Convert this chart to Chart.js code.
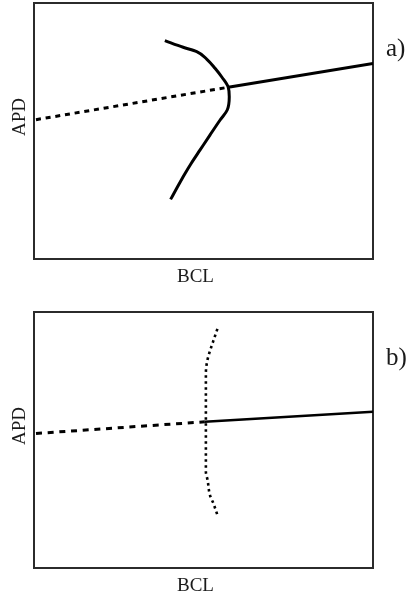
<!DOCTYPE html>
<html><head><meta charset="utf-8">
<script src="https://cdn.jsdelivr.net/npm/chart.js@4/dist/chart.umd.min.js"></script>
<style>
html,body{margin:0;padding:0;background:#fff;width:407px;height:599px;overflow:hidden}
canvas{position:absolute;left:0}
#ca{top:0}
#cb{top:299px}
</style></head><body>
<canvas id="ca" width="407" height="299"></canvas>
<canvas id="cb" width="407" height="300"></canvas>
<script>
// ---- text ----
const xTitle = 'BCL';
const yTitle = 'APD';
const panelLabels = ['a)', 'b)'];

// ---- panel a (x = BCL, y = APD, arbitrary 0-100 units) ----
const aDashedBranch = [[0, 54.3], [57.3, 67.1]];
const aSolidBranch  = [[57.3, 67.1], [100, 76.4]];
const aCurveX = [38.6, 44.0, 48.0, 51.0, 53.4, 55.5, 57.3, 57.6, 57.0, 54.9, 51.9, 49.0, 46.4, 44.3, 42.1, 40.3];
const aCurveY = [85.3, 82.7, 81.0, 78.0, 74.5, 70.9, 67.1, 63.4, 58.2, 54.3, 48.4, 42.6, 37.4, 32.8, 27.6, 23.3];

// ---- panel b ----
const bDashedBranch = [[0, 52.5], [50.4, 57.1]];
const bSolidBranch  = [[50.4, 57.1], [100, 61.05]];
const bCurveX = [54.1, 52.9, 51.4, 50.9, 50.7, 50.7, 50.7, 50.7, 50.7, 51.2, 51.9, 52.9, 54.1];
const bCurveY = [93.4, 88.7, 82.5, 79.3, 76.1, 65.0, 57.4, 46.9, 37.6, 34.4, 28.5, 25.3, 20.7];

const pairs = arr => arr.map(p => ({x: p[0], y: p[1]}));
const zip = (xs, ys) => xs.map((x, i) => ({x: x, y: ys[i]}));

const textPlugin = {
  id: 'panelText',
  afterDraw(chart, args, opts) {
    const ctx = chart.ctx, ca = chart.chartArea;
    ctx.save();
    ctx.fillStyle = '#1a1a1a';
    ctx.font = '19px "Liberation Serif"';
    ctx.textAlign = 'center';
    ctx.textBaseline = 'alphabetic';
    ctx.fillText(opts.xText, (ca.left + ca.right) / 2 - 8, ca.bottom + 23);
    ctx.save();
    ctx.translate(ca.left - 9.5, ca.top + 114);
    ctx.rotate(-Math.PI / 2);
    ctx.fillText(opts.yText, 0, 0);
    ctx.restore();
    ctx.font = '25px "Liberation Serif"';
    ctx.textAlign = 'left';
    ctx.fillText(opts.label, ca.right + 13, ca.top + 53);
    ctx.restore();
  }
};

function lineDs(data, width, dash, offset, curved) {
  const ds = {
    data: data, showLine: true, borderColor: '#000', borderWidth: width,
    borderDash: dash || [], borderDashOffset: offset || 0,
    pointRadius: 0, pointHoverRadius: 0, tension: 0,
    borderCapStyle: 'butt', borderJoinStyle: 'round', fill: false
  };
  if (curved) {
    ds.indexAxis = 'y';
    ds.cubicInterpolationMode = 'monotone';
  }
  return ds;
}

function makeChart(id, datasets, label, padTop, xAxisH) {
  const fitW = w => s => { s.width = w; };
  const fitH = h => s => { s.height = h; };
  const border = {display: true, color: '#2b2b2b', width: 2};
  return new Chart(document.getElementById(id), {
    type: 'scatter',
    data: {datasets: datasets},
    plugins: [textPlugin],
    options: {
      responsive: false, animation: false, devicePixelRatio: 1,
      layout: {padding: {left: 0, top: padTop, right: 34, bottom: 0}},
      plugins: {legend: {display: false}, tooltip: {enabled: false},
        panelText: {xText: xTitle, yText: yTitle, label: label}},
      scales: {
        x: {type: 'linear', position: 'bottom', min: 0, max: 100,
            ticks: {display: false}, grid: {display: false}, border: border,
            afterFit: fitH(xAxisH)},
        y: {type: 'linear', position: 'left', min: 0, max: 100,
            ticks: {display: false}, grid: {display: false}, border: border,
            afterFit: fitW(34)},
        x2: {type: 'linear', position: 'top', min: 0, max: 100,
             ticks: {display: false}, grid: {display: false}, border: border,
             afterFit: fitH(0)},
        y2: {type: 'linear', position: 'right', min: 0, max: 100,
             ticks: {display: false}, grid: {display: false}, border: border,
             afterFit: fitW(0)}
      }
    }
  });
}

makeChart('ca', [
  lineDs(pairs(aDashedBranch), 3, [5, 4.8], 7.8),
  lineDs(pairs(aSolidBranch), 3),
  lineDs(zip(aCurveX, aCurveY), 3, null, 0, true)
], panelLabels[0], 3, 40);

makeChart('cb', [
  lineDs(pairs(bDashedBranch), 3, [6, 5.7], 9.7),
  lineDs(pairs(bSolidBranch), 2.5),
  lineDs(zip(bCurveX, bCurveY), 2.6, [2.6, 3.4], 0, true)
], panelLabels[1], 13, 31);
</script>
</body></html>
